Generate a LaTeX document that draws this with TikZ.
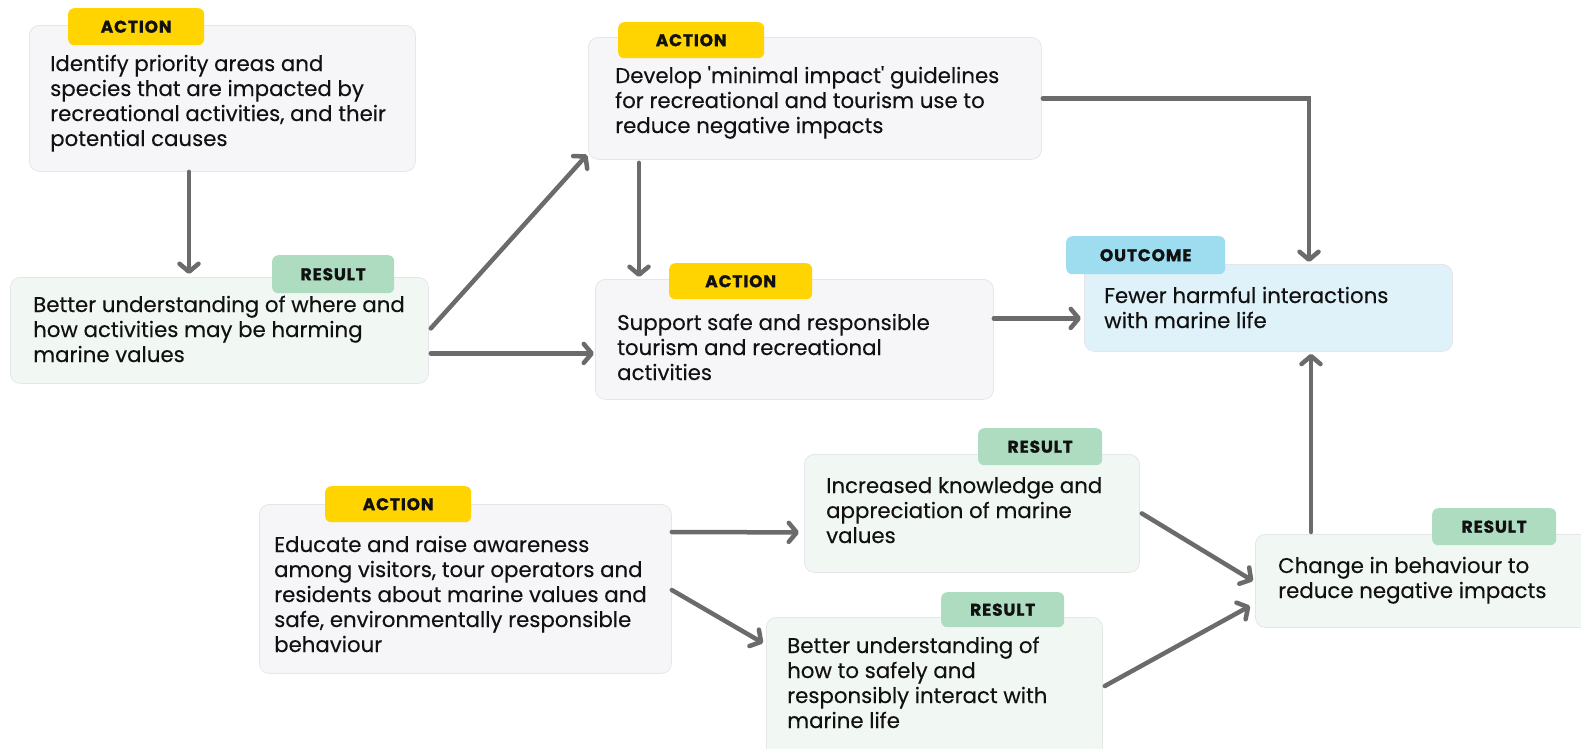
\documentclass[tikz,border=0pt]{standalone}
\usepackage{fontspec}
\setmainfont{Poppins}[Ligatures=TeXOff, FakeBold=0.25]
\newfontfamily\tagfont[LetterSpace=5, BoldFeatures={FakeBold=1.2}]{Poppins}
\usetikzlibrary{arrows.meta}
\definecolor{actfill}{HTML}{F6F5F8}
\definecolor{resfill}{HTML}{F1F7F3}
\definecolor{outfill}{HTML}{DFF1F9}
\definecolor{acttag}{HTML}{FFD400}
\definecolor{restag}{HTML}{ADDCC0}
\definecolor{outtag}{HTML}{9EDDF0}
\definecolor{boxline}{HTML}{E6E6EA}
\definecolor{arrgray}{HTML}{6B6B6B}
\definecolor{ink}{HTML}{111111}
\newcommand{\linesof}[1]{\parbox[t]{600pt}{\fontsize{21.3}{25}\selectfont\raggedright #1}}
\tikzset{
  boxbase/.style={anchor=north west, rounded corners=10pt, draw=boxline, line width=0.8pt, inner sep=0pt},
  abox/.style={boxbase, fill=actfill},
  rbox/.style={boxbase, fill=resfill},
  obox/.style={boxbase, fill=outfill},
  tagbase/.style={anchor=north west, rounded corners=6pt, inner sep=0pt, text=ink, font=\tagfont\bfseries\fontsize{17}{18}\selectfont},
  atag/.style={tagbase, fill=acttag},
  rtag/.style={tagbase, fill=restag},
  otag/.style={tagbase, fill=outtag},
  txt/.style={anchor=base west, inner sep=0pt, text=ink},
  arr/.style={draw=arrgray, line width=4.5pt, line cap=round, -{Straight Barb[length=8pt,width=19pt,round]}},
}
\begin{document}
\begin{tikzpicture}[x=1pt,y=-1pt]
\useasboundingbox (0,0) rectangle (1581,748);
% boxes
\node[abox, minimum width=386pt, minimum height=146pt] (b1) at (29,25) {};
\node[rbox, minimum width=418pt, minimum height=106pt] (b2) at (10,277) {};
\node[abox, minimum width=453pt, minimum height=122pt] (b3) at (588,37) {};
\node[abox, minimum width=398pt, minimum height=120pt] (b4) at (595,279) {};
\node[obox, minimum width=368pt, minimum height=87pt] (b5) at (1084,264) {};
\node[abox, minimum width=412pt, minimum height=169pt] (b6) at (259,504) {};
\node[rbox, minimum width=335pt, minimum height=118pt] (b7) at (804,454) {};
\node[rbox, minimum width=336pt, minimum height=150pt] (b8) at (766,617) {};
\node[rbox, minimum width=350pt, minimum height=93pt] (b9) at (1255,534) {};
% tags
\node[atag, minimum width=136pt, minimum height=37pt] (g1) at (68,8) {ACTION};
\node[rtag, minimum width=122pt, minimum height=38pt] (g2) at (272,255) {RESULT};
\node[atag, minimum width=146pt, minimum height=36pt] (g3) at (618,22) {ACTION};
\node[atag, minimum width=143pt, minimum height=36pt] (g4) at (669,263) {ACTION};
\node[otag, minimum width=159pt, minimum height=38pt] (g5) at (1066,236) {OUTCOME};
\node[atag, minimum width=146pt, minimum height=36pt] (g6) at (325,486) {ACTION};
\node[rtag, minimum width=124pt, minimum height=37pt] (g7) at (978,428) {RESULT};
\node[rtag, minimum width=123pt, minimum height=35pt] (g8) at (941,592) {RESULT};
\node[rtag, minimum width=124pt, minimum height=37pt] (g9) at (1432,508) {RESULT};
% texts
\node[txt] (x1) at (50,71) {\linesof{Identify priority areas and\\species that are impacted by\\recreational activities, and their\\potential causes}};
\node[txt] (x2) at (33,312) {\linesof{Better understanding of where and\\how activities may be harming\\marine values}};
\node[txt] (x3) at (615,83) {\linesof{Develop 'minimal impact' guidelines\\for recreational and tourism use to\\reduce negative impacts}};
\node[txt] (x4) at (617,330) {\linesof{Support safe and responsible\\tourism and recreational\\activities}};
\node[txt] (x5) at (1104,303) {\linesof{Fewer harmful interactions\\with marine life}};
\node[txt] (x6) at (274,552) {\linesof{Educate and raise awareness\\among visitors, tour operators and\\residents about marine values and\\safe, environmentally responsible\\behaviour}};
\node[txt] (x7) at (826,493) {\linesof{Increased knowledge and\\appreciation of marine\\values}};
\node[txt] (x8) at (787,653) {\linesof{Better understanding of\\how to safely and\\responsibly interact with\\marine life}};
\node[txt] (x9) at (1278,573) {\linesof{Change in behaviour to\\reduce negative impacts}};
% connectors
\draw[arr] ([xshift=160pt]b1.south west) -- ([xshift=179pt,yshift=3pt]b2.north west);
\draw[arr] ([xshift=2pt,yshift=2pt]b2.east) -- ([xshift=-1pt,yshift=5pt]b3.south west);
\draw[arr] ([xshift=2pt,yshift=-23pt]b2.east) -- ([xshift=-1pt,yshift=-14pt]b4.west);
\draw[arr] ([xshift=51pt,yshift=-3pt]b3.south west) -- ([xshift=44pt,yshift=2pt]b4.north west);
\draw[arr] ([xshift=1pt]b3.east) -| ([xshift=225pt,yshift=2pt]b5.north west);
\draw[arr] ([yshift=21pt]b4.east) -- ([xshift=-3pt,yshift=-10.5pt]b5.west);
\draw[arr] ([xshift=56pt,yshift=2pt]b9.north west) -- ([xshift=227pt,yshift=-2pt]b5.south west);
\draw[arr] ([yshift=-28pt]b6.north east) -- ([xshift=-5pt,yshift=-19pt]b7.west);
\draw[arr] ([yshift=-86pt]b6.north east) -- ([xshift=-3pt,yshift=-26pt]b8.north west);
\draw[arr] ([xshift=2pt]b7.east) -- ([xshift=-2pt]b9.west);
\draw[arr] ([xshift=2pt,yshift=-69pt]b8.north east) -- ([xshift=-5pt,yshift=-72pt]b9.north west);
\end{tikzpicture}
\end{document}
